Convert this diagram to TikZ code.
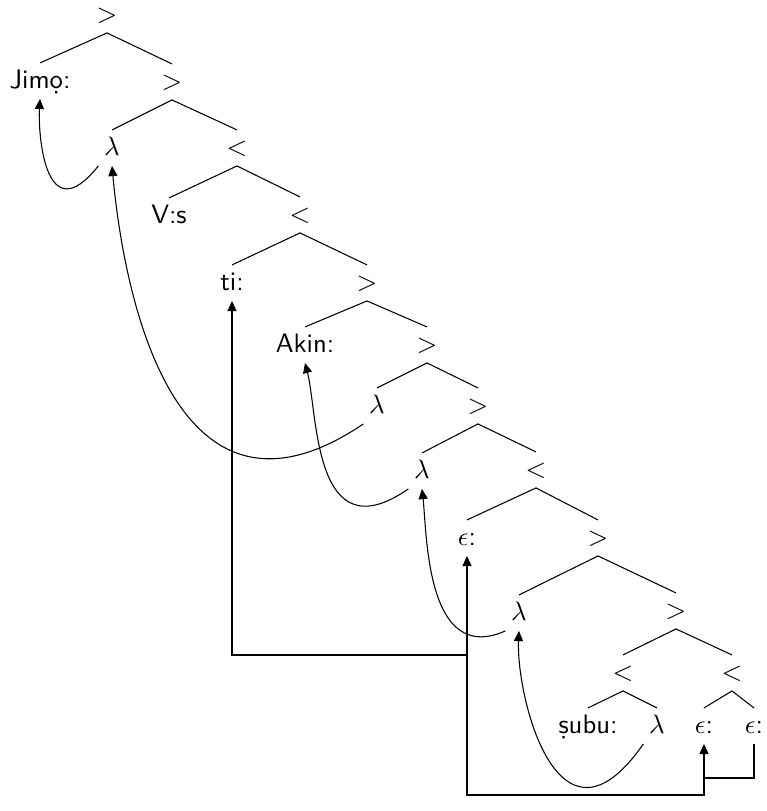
\documentclass[tikz,border=0pt]{standalone}
\usetikzlibrary{arrows.meta}
\tikzset{
  lab/.style={anchor=base,inner sep=2pt,text height=7.2pt,text depth=1.9pt,font=\sffamily},
  arr/.style={-{Triangle[length=3.8pt,width=3.4pt]}}
}
\begin{document}
\begin{tikzpicture}[x=0.375pt,y=0.375pt]
  \useasboundingbox (0,0) rectangle (767,-811);
  % tree nodes, placed at their baselines
  \node[lab] (r)    at (107,-22)  {$>$};
  \node[lab] (jimo) at (40,-88)   {Jimọ:};
  \node[lab] (g2)   at (172,-89)  {$>$};
  \node[lab] (l1)   at (112,-155) {$\lambda$};
  \node[lab] (s3)   at (237,-155) {$<$};
  \node[lab] (vs)   at (169,-223) {V:s};
  \node[lab] (s4)   at (300,-222) {$<$};
  \node[lab] (ti)   at (232,-290) {ti:};
  \node[lab] (g5)   at (367,-290) {$>$};
  \node[lab] (akin) at (305,-352) {Akin:};
  \node[lab] (g6)   at (427,-352) {$>$};
  \node[lab] (l2)   at (377,-413) {$\lambda$};
  \node[lab] (g7)   at (478,-413) {$>$};
  \node[lab] (l3)   at (422,-478) {$\lambda$};
  \node[lab] (s8)   at (536,-477) {$<$};
  \node[lab] (e1)   at (467,-545) {$\epsilon$:};
  \node[lab] (g9)   at (598,-545) {$>$};
  \node[lab] (l4)   at (519,-620) {$\lambda$};
  \node[lab] (g10)  at (676,-618) {$>$};
  \node[lab] (s11)  at (623,-680) {$<$};
  \node[lab] (s12)  at (732,-680) {$<$};
  \node[lab] (subu) at (588,-733) {ṣubu:};
  \node[lab] (l5)   at (657,-733) {$\lambda$};
  \node[lab] (e2)   at (704,-733) {$\epsilon$:};
  \node[lab] (e3)   at (754,-733) {$\epsilon$:};
  % branches
  \foreach \a/\b in {r/jimo,r/g2,g2/l1,g2/s3,s3/vs,s3/s4,s4/ti,s4/g5,g5/akin,g5/g6,
                     g6/l2,g6/g7,g7/l3,g7/s8,s8/e1,s8/g9,g9/l4,g9/g10,g10/s11,g10/s12,
                     s11/subu,s11/l5,s12/e2,s12/e3}
    \draw (\a.south) -- (\b.north);
  % movement arrows
  \draw[arr] (l1.south west) .. controls (45,-233) and (38,-134) .. (jimo.south);
  \draw[arr] (l2.south west) .. controls (171,-554) and (123,-286) .. (l1.south);
  \draw[arr] (l3.south west) .. controls (313,-555) and (318,-413) .. (akin.south);
  \draw[arr] (l4.south west) .. controls (426,-666) and (427,-534) .. (l3.south);
  \draw[arr] (l5.south west) .. controls (558,-867) and (516,-696) .. (l4.south);
  % chain of empty heads
  \coordinate (j) at (e1.south |- 0,-655);
  \coordinate (low) at (0,-795);
  \coordinate (mid) at (0,-778);
  \draw[arr] (j) -- (e1.south);
  \draw[arr] (j) -| (ti.south);
  \draw[arr] (j) |- (low -| e2.south) -- (e2.south);
  \draw (e3.south) |- (mid -| e2.south);
\end{tikzpicture}
\end{document}
